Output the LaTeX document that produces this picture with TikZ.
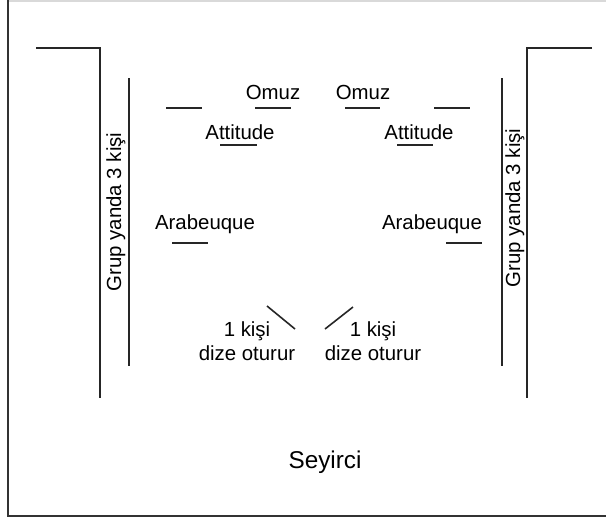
\documentclass[tikz,border=0pt]{standalone}
\usepackage{fontspec}
\setmainfont{Liberation Sans}
\begin{document}
\begin{tikzpicture}[x=1pt, y=-1pt,
    lbl/.style={inner sep=0pt, font=\fontsize{20.4}{24}\selectfont},
    spot/.style={line width=1.6pt, black!85},
    wall/.style={line width=1.6pt, black!85}]
  \useasboundingbox (0,0) rectangle (606,520);
  % frame
  \draw[black!15, line width=1.5pt] (8,1) -- (606,1);
  \draw[black!80, line width=2.2pt] (8,0) -- (8,516) -- (606,516);
  % side walls
  \draw[wall] (36,48) -- (100,48) -- (100,398);
  \draw[wall] (592,48) -- (527,48) -- (527,398);
  \draw[wall] (129,78) -- (129,366);
  \draw[wall] (502,78) -- (502,366);
  \node[lbl, rotate=90] (grupL) at (116,212) {Grup yanda 3 kişi};
  \node[lbl, rotate=90] (grupR) at (515,208) {Grup yanda 3 kişi};
  % dancers
  \node[lbl] (omuzL) at (273,92) {Omuz};
  \node[lbl] (omuzR) at (363,92) {Omuz};
  \draw[spot] (166,108) -- (202,108);
  \draw[spot] (255,108) -- (291,108);
  \draw[spot] (345,108) -- (380,108);
  \draw[spot] (434,108) -- (470,108);
  \node[lbl] (attL) at (240,132) {Attitude};
  \node[lbl] (attR) at (419,132) {Attitude};
  \draw[spot] (220,145) -- (257,145);
  \draw[spot] (397,145) -- (433,145);
  \node[lbl] (arabL) at (205,224) {Arabeuque};
  \node[lbl] (arabR) at (432,224) {Arabeuque};
  \draw[spot] (172,243) -- (208,243);
  \draw[spot] (446,243) -- (482,243);
  \draw[spot] (267,306) -- (295,329);
  \draw[spot] (325,329) -- (353,307);
  \node[lbl, align=center] (kisiL) at (247,341) {1 kişi\\dize oturur};
  \node[lbl, align=center] (kisiR) at (373,341) {1 kişi\\dize oturur};
  % audience
  \node[lbl, font=\fontsize{24.3}{28}\selectfont] (seyirci) at (325,462) {Seyirci};
\end{tikzpicture}
\end{document}
